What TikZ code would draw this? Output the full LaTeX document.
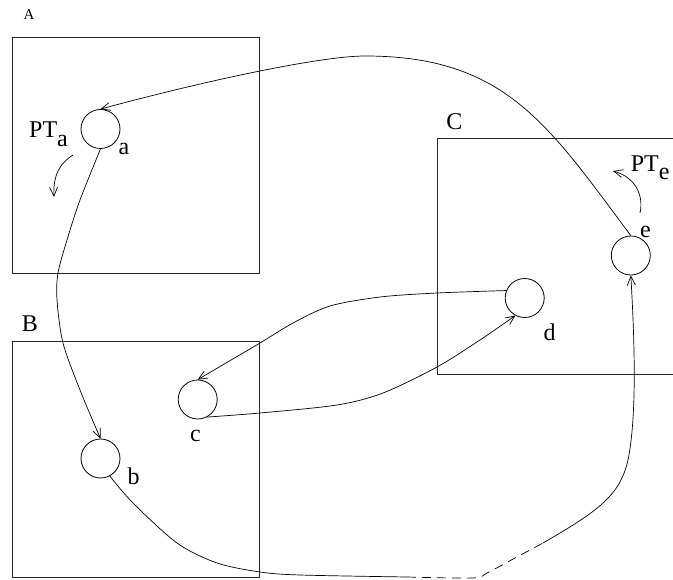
\documentclass[tikz,border=0pt]{standalone}
\usepackage{fontspec}
\setmainfont{Liberation Serif}
\usetikzlibrary{arrows.meta}
\begin{document}
\begin{tikzpicture}[x=1pt,y=-1pt,
  boxline/.style={draw=black!85, line width=0.9pt},
  place/.style={circle, draw, minimum size=39pt, inner sep=0pt, line width=0.8pt},
  lbl/.style={anchor=base, inner sep=0pt, font=\fontsize{24}{28}\selectfont},
  conn/.style={line width=0.7pt, -{Straight Barb[length=9pt,width=8pt]}},
  plainline/.style={line width=0.7pt},
  dashline/.style={line width=0.7pt, dash pattern=on 9pt off 6pt}
]
\useasboundingbox (0,0) rectangle (673,580);
% boxes
\draw[boxline] (12,37) rectangle (259,273);
\draw[boxline] (12,341) rectangle (259,577);
\draw[boxline] (673,138) -- (437,138) -- (437,374) -- (673,374);
% places
\node[place] (a) at (100.5,129) {};
\node[place] (b) at (100.5,458.5) {};
\node[place] (c) at (197.7,399.5) {};
\node[place] (d) at (524.7,298) {};
\node[place] (e) at (630.8,255.5) {};
% labels
\node[lbl, font=\fontsize{15}{18}\selectfont] (labA) at (29,20) {A};
\node[lbl] (labB) at (30,332) {B};
\node[lbl] (labC) at (454.5,130) {C};
\node[lbl] (la) at (124,155) {a};
\node[lbl] (lb) at (133.5,484) {b};
\node[lbl] (lc) at (195.5,442) {c};
\node[lbl] (ld) at (549.5,341) {d};
\node[lbl] (le) at (645.5,238) {e};
\node[lbl, anchor=base west] (pta) at (29,138) {PT\raisebox{-9pt}{a}};
\node[lbl, anchor=base west] (pte) at (630.7,172) {PT\raisebox{-8pt}{e}};
% connectors
\draw[conn] (e.north) .. controls (547.6,124) and (505,56) .. (365,56)
                      .. controls (320,56) and (200,82) .. (a.north);
\draw[conn] plot[smooth] coordinates {(a.south) (80,200) (67,240) (58,273) (57,300) (63,343) (80,390) (b.north)};
\draw[conn] plot[smooth] coordinates {(d.158) (437,293) (380,297) (330,306) (293,323) (260,343) (c.north)};
\draw[conn] plot[smooth] coordinates {(c.-62) (260,413) (337,405) (383,393) (437,367) (480,340) (d.242)};
\coordinate (p1) at (407,577);
\coordinate (p2) at (543,543);
\draw[plainline] plot[smooth] coordinates {(b.-62) (133,503) (177,543) (217,563) (260,572) (300,575) (p1)};
\draw[dashline] plot[smooth] coordinates {(p1) (473,578) (487,573) (515,558) (p2)};
\draw[conn] (p2) .. controls (600,510) and (620,495) .. (628,460)
                 .. controls (634,430) and (637,380) .. (e.south);
% small rotation arrows
\coordinate (pa1) at (73,155);
\coordinate (pa2) at (54,197);
\draw[conn] (pa1) .. controls (60,163) and (53,175) .. (pa2);
\coordinate (pe1) at (640,213);
\coordinate (pe2) at (613,171);
\draw[conn] (pe1) .. controls (644,195) and (635,177) .. (pe2);
\end{tikzpicture}
\end{document}
